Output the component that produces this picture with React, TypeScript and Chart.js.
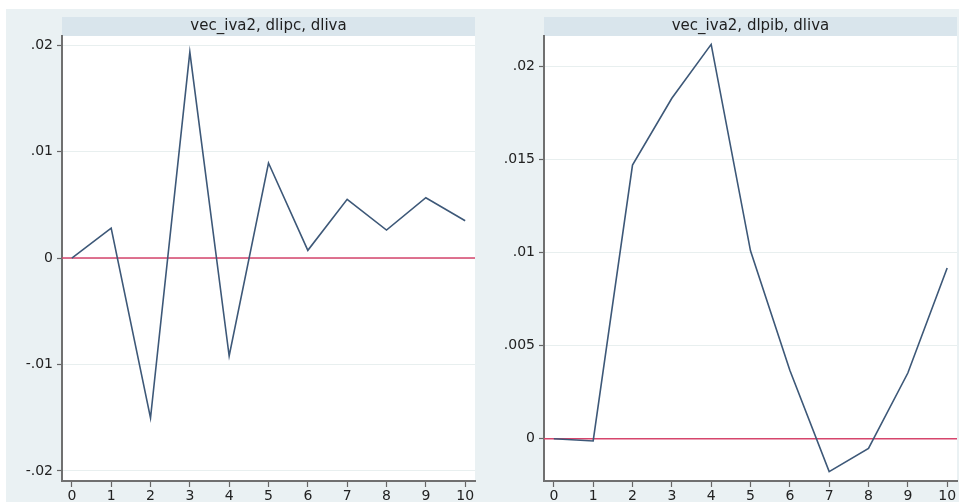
import React, { useEffect, useRef } from "react";
import { Chart, registerables } from "chart.js";

Chart.register(...registerables);

// Impulse-response horizon (steps)
const periods = [0, 1, 2, 3, 4, 5, 6, 7, 8, 9, 10];

// Response of dlipc to a dliva impulse
const dlipcResponse = [0, 0.0028, -0.01502, 0.01934, -0.0092, 0.00892, 0.00072, 0.00551, 0.00263, 0.00566, 0.0035];

// Response of dlpib to a dliva impulse
const dlpibResponse = [0, -0.00012, 0.01471, 0.0183, 0.0212, 0.0101, 0.00368, -0.00177, -0.00052, 0.00353, 0.00918];

const leftTicks = [-0.02, -0.01, 0, 0.01, 0.02];
const leftTickLabels = ["-.02", "-.01", "0", ".01", ".02"];

const rightTicks = [0, 0.005, 0.01, 0.015, 0.02];
const rightTickLabels = ["0", ".005", ".01", ".015", ".02"];

const leftTitle = "vec_iva2, dlipc, dliva";
const rightTitle = "vec_iva2, dlpib, dliva";

const FONT = "'DejaVu Sans', 'Liberation Sans', sans-serif";
const LINE_COLOR = "#3d5878";
const ZERO_COLOR = "#d6456c";
const OUTER_BG = "#eaf1f3";
const TITLE_BG = "#d9e5ec";

type PanelProps = {
  title: string;
  values: number[];
  yTicks: number[];
  yLabels: string[];
  yMin: number;
  yMax: number;
  yAxisWidth: number;
  padRight: number;
  left: number;
  width: number;
};

function Panel(props: PanelProps) {
  const ref = useRef<HTMLCanvasElement | null>(null);

  useEffect(() => {
    if (!ref.current) return;
    const { title, values, yTicks, yLabels, yMin, yMax, yAxisWidth, padRight } = props;

    const backdrop = {
      id: "panelBackdrop",
      beforeDraw(chart: any) {
        const { ctx, chartArea } = chart;
        ctx.save();
        ctx.fillStyle = "#ffffff";
        ctx.fillRect(chartArea.left, chartArea.top, chartArea.right - chartArea.left, chartArea.bottom - chartArea.top);
        ctx.fillStyle = TITLE_BG;
        ctx.fillRect(chartArea.left, chartArea.top - 19, chartArea.right - chartArea.left, 19);
        ctx.fillStyle = "#1e1e1e";
        ctx.font = `15px ${FONT}`;
        ctx.textAlign = "center";
        ctx.textBaseline = "middle";
        ctx.fillText(title, (chartArea.left + chartArea.right) / 2, chartArea.top - 9.5);
        ctx.restore();
      },
    };

    const zeroLine = {
      id: "zeroLine",
      beforeDatasetsDraw(chart: any) {
        const { ctx, chartArea, scales } = chart;
        const y = scales.y.getPixelForValue(0);
        ctx.save();
        ctx.strokeStyle = ZERO_COLOR;
        ctx.lineWidth = 1.5;
        ctx.beginPath();
        ctx.moveTo(chartArea.left, y);
        ctx.lineTo(chartArea.right, y);
        ctx.stroke();
        ctx.restore();
      },
    };

    const chart = new Chart(ref.current, {
      type: "line",
      data: {
        datasets: [
          {
            data: periods.map((p, i) => ({ x: p, y: values[i] })),
            borderColor: LINE_COLOR,
            borderWidth: 1.6,
            pointRadius: 0,
            tension: 0,
            fill: false,
          },
        ],
      },
      options: {
        animation: false,
        responsive: false,
        devicePixelRatio: 1,
        layout: { padding: { top: 36, right: padRight, left: 0, bottom: 0 } },
        plugins: {
          legend: { display: false },
          title: { display: false },
          tooltip: { enabled: false },
        },
        scales: {
          x: {
            type: "linear",
            min: -0.25,
            max: 10.25,
            afterBuildTicks: (s: any) => {
              s.ticks = periods.map((v) => ({ value: v }));
            },
            afterFit: (s: any) => {
              s.height = 21;
            },
            ticks: {
              autoSkip: false,
              maxRotation: 0,
              padding: 1,
              color: "#222",
              font: { family: FONT, size: 14 },
              callback: (v: any) => String(v),
            },
            grid: {
              drawOnChartArea: false,
              drawTicks: true,
              tickLength: 6,
              tickColor: "#666",
              tickWidth: 1.2,
            },
            border: { display: true, color: "#707070", width: 2 },
          },
          y: {
            type: "linear",
            min: yMin,
            max: yMax,
            afterBuildTicks: (s: any) => {
              s.ticks = yTicks.map((v) => ({ value: v }));
            },
            afterFit: (s: any) => {
              s.width = yAxisWidth;
            },
            ticks: {
              autoSkip: false,
              padding: 4,
              color: "#222",
              font: { family: FONT, size: 14 },
              callback: (_v: any, i: number) => yLabels[i],
            },
            grid: {
              color: "#e8efef",
              lineWidth: 1,
              drawTicks: true,
              tickLength: 5,
              tickColor: "#666",
              tickWidth: 1.2,
            },
            border: { display: true, color: "#707070", width: 2 },
          },
        },
      },
      plugins: [backdrop, zeroLine],
    } as any);

    return () => chart.destroy();
  }, []);

  return (
    <canvas
      ref={ref}
      width={props.width}
      height={502}
      style={{ position: "absolute", left: props.left, top: 0, width: props.width, height: 502 }}
    />
  );
}

export default function App() {
  return (
    <div style={{ position: "absolute", left: 0, top: 0, width: 959, height: 502, background: "#ffffff", overflow: "hidden" }}>
      <div style={{ position: "absolute", left: 6, top: 9, width: 953, height: 493, background: OUTER_BG }} />
      <Panel
        title={leftTitle}
        values={dlipcResponse}
        yTicks={leftTicks}
        yLabels={leftTickLabels}
        yMin={-0.02094}
        yMax={0.02085}
        yAxisWidth={62}
        padRight={5}
        left={0}
        width={480}
      />
      <Panel
        title={rightTitle}
        values={dlpibResponse}
        yTicks={rightTicks}
        yLabels={rightTickLabels}
        yMin={-0.002274}
        yMax={0.02165}
        yAxisWidth={64}
        padRight={2}
        left={480}
        width={479}
      />
    </div>
  );
}
